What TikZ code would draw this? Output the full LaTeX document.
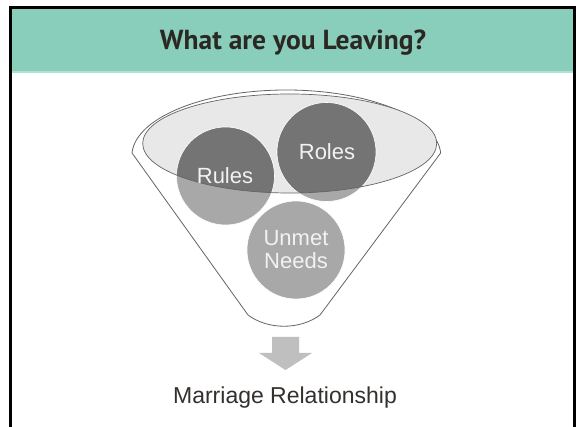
\documentclass[tikz,border=0pt]{standalone}
\usepackage{fontspec}
\setmainfont{Liberation Sans}
\newfontfamily\titlefont{PT Sans}
\begin{document}
\begin{tikzpicture}[x=1pt,y=-1pt,
  framecol/.style={line width=3pt,draw=black},
  circlab/.style={text=textwhite,font=\fontsize{22}{23}\selectfont,align=center,inner sep=0pt},
  circdark/.style={fill=circdarkcol,draw=white,line width=0.6pt},
  circlight/.style={fill=circlightcol,draw=white,line width=0.6pt},
  outline/.style={draw=outlinecol,line width=0.8pt}]
\definecolor{headteal}{RGB}{137,206,186}
\definecolor{headline}{RGB}{176,226,210}
\definecolor{titlecol}{RGB}{43,39,34}
\definecolor{circdarkcol}{RGB}{116,116,116}
\definecolor{circlightcol}{RGB}{168,168,168}
\definecolor{ellfill}{RGB}{232,232,232}
\definecolor{outlinecol}{RGB}{100,100,100}
\definecolor{textwhite}{RGB}{242,242,242}
\definecolor{arrowcol}{RGB}{191,191,191}
\definecolor{labelcol}{RGB}{51,48,45}
\useasboundingbox (0,0) rectangle (581,427);
\fill[white] (0,0) rectangle (581,427);
% header
\fill[headteal] (10.5,7.5) rectangle (574.5,72);
\fill[headline] (10.5,71) rectangle (574.5,73);
\draw[framecol] (10.5,427) -- (10.5,7.5) -- (574.5,7.5) -- (574.5,427);
\node[font=\titlefont\bfseries\fontsize{27.5}{30}\selectfont,text=titlecol,inner sep=0pt,anchor=base] (title) at (293,49.3) {What are you Leaving?};
% funnel outline
\draw[outline] (132,153) arc[start angle=182.6,end angle=357.4,x radius=154.5,y radius=66] -- (320,315)
  .. controls (300,330) and (268,330) .. (248,315) -- cycle;
% inner ellipse
\fill[ellfill] (289.7,143.5) ellipse[x radius=147,y radius=49.5];
% circles light
\path[circlight] (225.5,176) circle[radius=49];
\path[circlight] (326.5,152) circle[radius=49.5];
\path[circlight] (296,250) circle[radius=49];
% dark parts
\begin{scope}
\clip (289.7,143.5) ellipse[x radius=147,y radius=49.5];
\path[circdark] (225.5,176) circle[radius=49];
\path[circdark] (326.5,152) circle[radius=49.5];
\end{scope}
\draw[outline,line width=0.7pt] (289.7,143.5) ellipse[x radius=147,y radius=49.5];
% labels
\node[circlab] (rules) at (225,176) {Rules};
\node[circlab] (roles) at (327,152) {Roles};
\node[circlab] (unmet) at (296,250) {Unmet\\Needs};
% arrow
\fill[arrowcol] (272,337) -- (299,337) -- (299,353) -- (312,353) -- (285.5,370) -- (259,353) -- (272,353) -- cycle;
\node[font=\fontsize{23}{26}\selectfont,text=labelcol,inner sep=0pt,anchor=base] (marriage) at (285,403) {Marriage Relationship};
\end{tikzpicture}
\end{document}
